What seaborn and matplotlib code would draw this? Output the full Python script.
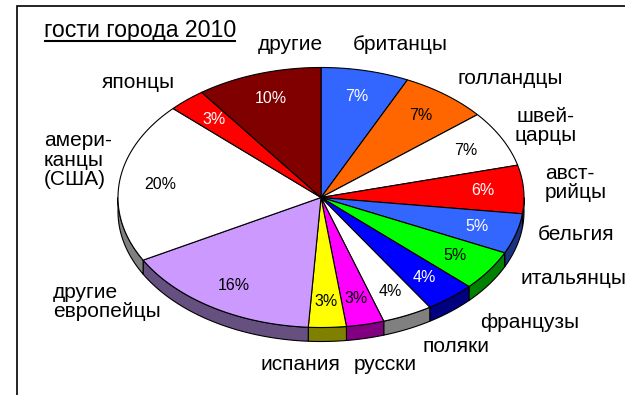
import numpy as np
import matplotlib
matplotlib.use("Agg")
import matplotlib.pyplot as plt
from matplotlib.patches import Polygon
import seaborn as sns

# --- data -------------------------------------------------------------
categories = ["британцы", "голландцы", "швей-\nцарцы", "авст-\nрийцы", "бельгия",
              "итальянцы", "французы", "поляки", "русски", "испания",
              "другие\nевропейцы", "амери-\nканцы\n(США)", "японцы", "другие"]
shares = [7, 7, 7, 6, 5, 5, 4, 4, 3, 3, 16, 20, 3, 10]
title = "гости города 2010"

# --- styling ----------------------------------------------------------
top_colors = ["#3366FF", "#FF6600", "#FFFFFF", "#FF0000", "#3366FF",
              "#00FF00", "#0000FF", "#FFFFFF", "#FF00FF", "#FFFF00",
              "#CC99FF", "#FFFFFF", "#FF0000", "#800000"]
side_colors = ["#1A3380", "#803300", "#808080", "#800000", "#1A3380",
               "#008000", "#000080", "#808080", "#800080", "#808000",
               "#665080", "#808080", "#800000", "#400000"]
pct_colors = ["white", "black", "black", "white", "white",
              "black", "white", "black", "black", "black",
              "black", "black", "white", "white"]

# category label anchors (x, y, horizontal alignment)
label_pos = [(400, 45, "center"), (510, 79, "center"), (546, 126, "center"),
             (545, 183, "left"), (576, 235, "center"), (520, 278, "left"),
             (530, 322, "center"), (456, 347, "center"), (385, 365, "center"),
             (300, 365, "center"), (53, 302, "left"), (44, 160, "left"),
             (138, 83, "center"), (290, 45, "center")]

sns.set_theme(style="white")
plt.rcParams["font.family"] = ["Liberation Sans", "DejaVu Sans"]

fig = plt.figure(figsize=(6.25, 3.95), dpi=100)
fig.patch.set_facecolor("white")
ax = fig.add_axes([0, 0, 1, 1])
ax.set_xlim(0, 625)
ax.set_ylim(395, 0)
ax.axis("off")

# pie geometry (tilted disc)
cx, cy, rx, ry, depth = 321, 197.5, 203, 130, 14


def rim(theta_deg):
    t = np.radians(theta_deg)
    return cx + rx * np.sin(t), cy - ry * np.cos(t)


total = float(sum(shares))
bounds = np.concatenate([[0], np.cumsum(shares)]) / total * 360.0

# front walls of the disc
for i in range(len(shares)):
    a, b = max(bounds[i], 90.0), min(bounds[i + 1], 270.0)
    if b <= a:
        continue
    th = np.linspace(a, b, 60)
    xs, ys = rim(th)
    pts = np.column_stack([np.concatenate([xs, xs[::-1]]),
                           np.concatenate([ys, ys[::-1] + depth])])
    ax.add_patch(Polygon(pts, closed=True, facecolor=side_colors[i],
                         edgecolor="black", linewidth=0.8, zorder=2))

# top faces
for i in range(len(shares)):
    th = np.linspace(bounds[i], bounds[i + 1], 80)
    xs, ys = rim(th)
    pts = np.column_stack([np.concatenate([[cx], xs]),
                           np.concatenate([[cy], ys])])
    ax.add_patch(Polygon(pts, closed=True, facecolor=top_colors[i],
                         edgecolor="black", linewidth=0.8, zorder=3))

# percentage labels inside slices
for i, v in enumerate(shares):
    mid = (bounds[i] + bounds[i + 1]) / 2
    t = np.radians(mid)
    x = cx + 0.8 * rx * np.sin(t)
    y = cy - 0.8 * ry * np.cos(t)
    ax.text(x, y, f"{v}%", ha="center", va="center", fontsize=11.5,
            color=pct_colors[i], zorder=5)

# category labels
for name, (x, y, ha) in zip(categories, label_pos):
    ax.text(x, y, name, ha=ha, va="center", multialignment=ha,
            fontsize=15, color="black", linespacing=1.05, zorder=5)

# title with underline
t = ax.text(44, 31, title, ha="left", va="center", fontsize=16.7, color="black")
fig.canvas.draw()
bb = t.get_window_extent(renderer=fig.canvas.get_renderer())
inv = ax.transData.inverted()
(x0, _), (x1, _) = inv.transform([(bb.x0, bb.y0), (bb.x1, bb.y0)])
ax.plot([x0, x1], [41, 41], color="black", linewidth=1.5, solid_capstyle="butt")

# chart frame (left and top edges)
ax.plot([17, 17, 625], [395, 6, 6], color="black", linewidth=1.2,
        solid_joinstyle="miter")

fig.savefig("out.png", dpi=100, facecolor="white")
